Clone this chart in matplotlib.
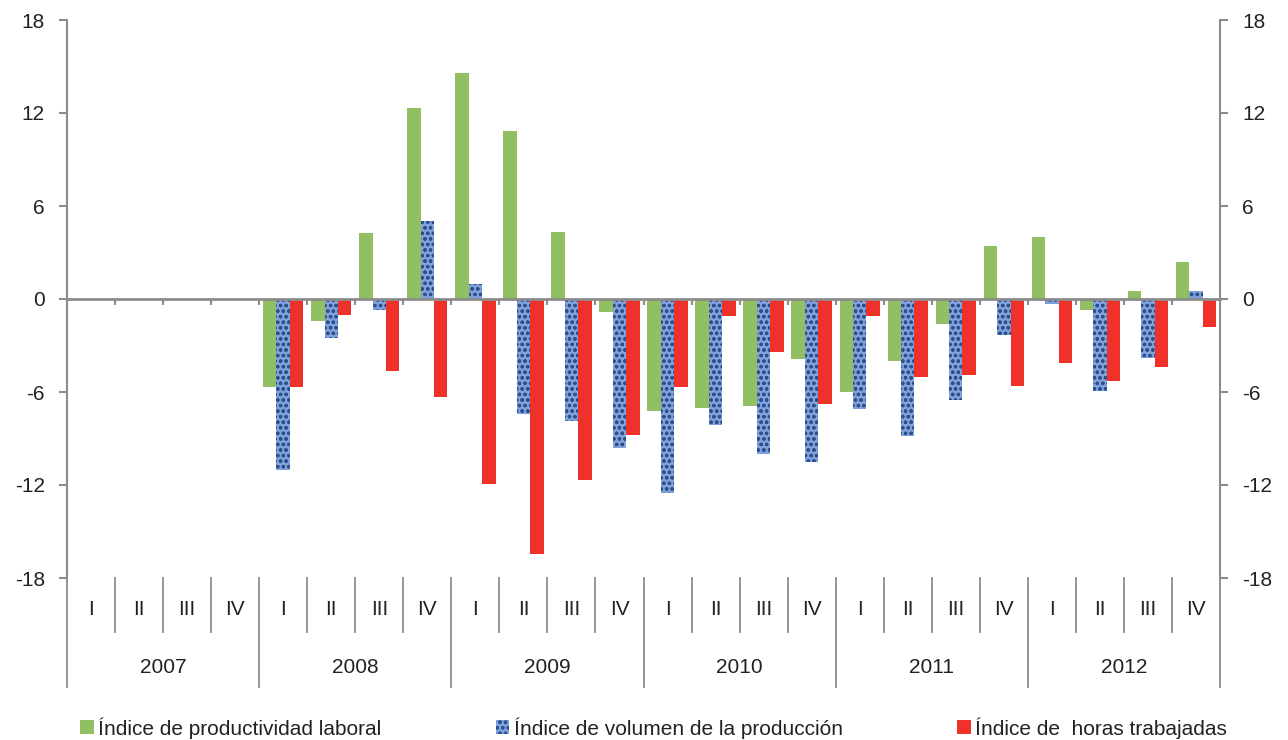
import matplotlib.pyplot as plt
import numpy as np

plt.rcParams["font.family"] = ["Liberation Sans", "DejaVu Sans"]
plt.rcParams["hatch.linewidth"] = 0.9
plt.rcParams["axes.unicode_minus"] = False

years = ["2007", "2008", "2009", "2010", "2011", "2012"]
quarters = ["I", "II", "III", "IV"]

# 2007 sin datos
productividad = [0, 0, 0, 0,
                 -5.65, -1.4, 4.25, 12.35,
                 14.6, 10.85, 4.3, -0.85,
                 -7.2, -7.0, -6.9, -3.9,
                 -6.0, -4.0, -1.6, 3.4,
                 4.0, -0.7, 0.5, 2.4]
volumen = [0, 0, 0, 0,
           -11.0, -2.5, -0.7, 5.05,
           0.95, -7.45, -7.9, -9.6,
           -12.5, -8.1, -10.0, -10.5,
           -7.1, -8.85, -6.5, -2.35,
           -0.35, -5.95, -3.8, 0.5]
horas = [0, 0, 0, 0,
         -5.65, -1.05, -4.65, -6.35,
         -11.95, -16.45, -11.65, -8.75,
         -5.65, -1.1, -3.4, -6.8,
         -1.1, -5.0, -4.9, -5.6,
         -4.1, -5.3, -4.4, -1.8]

gris = "#8c8c8c"
fs = 15
fig = plt.figure(figsize=(12.88, 7.40), dpi=100)
ax = fig.add_axes([67 / 1288, 1 - 578 / 740, (1220 - 67) / 1288, 558 / 740])

n = len(productividad)
x = np.arange(n)
w = 0.28
mask = np.array([i >= 4 for i in range(n)])

b1 = ax.bar(x[mask] - w, np.array(productividad)[mask], w, color="#92be64",
            linewidth=0, label="Índice de productividad laboral")
b2 = ax.bar(x[mask], np.array(volumen)[mask], w, facecolor="#7fa2dc",
            edgecolor="#2d4f8e", hatch="ooo", linewidth=0,
            label="Índice de volumen de la producción")
b3 = ax.bar(x[mask] + w, np.array(horas)[mask], w, color="#ee3229",
            linewidth=0, label="Índice de  horas trabajadas")

ax.set_xlim(-0.5, n - 0.5)
ax.set_ylim(-18, 18)
ax.set_yticks(np.arange(-18, 19, 6))
ax.tick_params(axis="y", direction="out", length=6, color=gris, width=1.5,
               labelsize=fs, pad=10, right=True, labelright=True, labelcolor="#222222")

# eje x en cero
ax.spines["bottom"].set_position(("data", 0))
ax.spines["bottom"].set_color(gris)
ax.spines["bottom"].set_linewidth(2)
ax.spines["top"].set_visible(False)
for s in ["left", "right"]:
    ax.spines[s].set_color(gris)
    ax.spines[s].set_linewidth(1.5)
ax.set_xticks(np.arange(-0.5, n, 1))
ax.set_xticklabels([])
ax.tick_params(axis="x", direction="out", length=4, color=gris, width=1.5)

# eje de categorias abajo
trans = ax.get_xaxis_transform()
for i in range(n + 1):
    xb = i - 0.5
    y_end = -0.195 if i % 4 == 0 else -0.097
    ax.plot([xb, xb], [0, y_end], color=gris, lw=1.3, transform=trans, clip_on=False)
for i in range(n):
    ax.text(i, -0.057, quarters[i % 4], ha="center", va="center", fontsize=fs,
            color="#222222", transform=trans)
for j, yr in enumerate(years):
    ax.text(j * 4 + 1.5, -0.161, yr, ha="center", va="center", fontsize=fs,
            color="#222222", transform=trans)

fig.legend(handles=[b1, b2, b3], loc="center left", bbox_to_anchor=(72 / 1288, 1 - 728 / 740),
           ncol=3, frameon=False, fontsize=fs, handlelength=0.65, handleheight=0.65,
           handletextpad=0.2, columnspacing=5.5, borderaxespad=0, labelcolor="#222222")

fig.savefig("out.png", dpi=100)
